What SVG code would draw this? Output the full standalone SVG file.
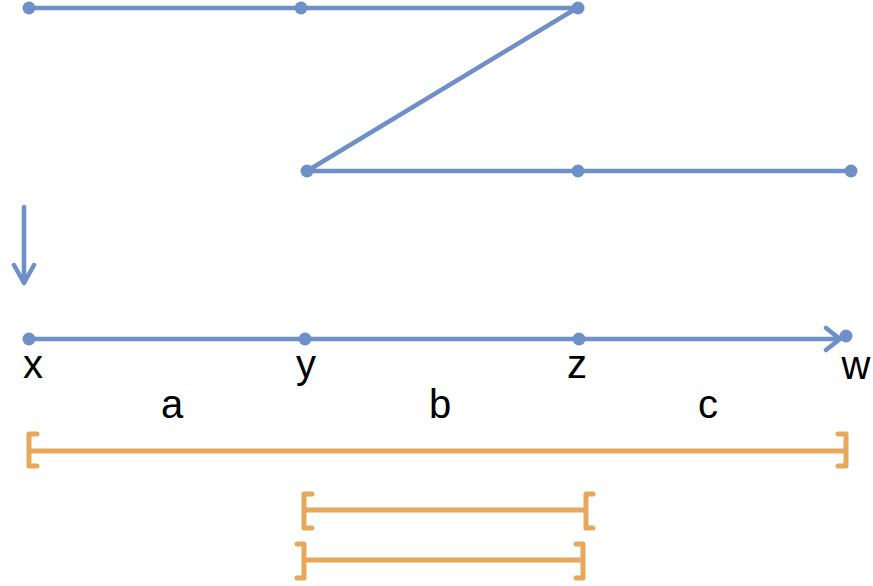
<svg xmlns="http://www.w3.org/2000/svg" width="873" height="586" viewBox="0 0 873 586">
<defs>
<style>
.b{stroke:#6F8FC8;stroke-width:4.5;fill:none;stroke-linecap:round;stroke-linejoin:round}
.d{fill:#6F8FC8}
.o{stroke:#E8A85C;stroke-width:5;fill:none;stroke-linecap:round;stroke-linejoin:round}
.t{font-family:"Liberation Sans",Arial,sans-serif;font-size:40px;fill:#000;text-anchor:middle}
</style>
</defs>
<rect width="873" height="586" fill="#fff"/>
<g id="connectors">
<path class="b" d="M29 8 H577 L307 171 H851"/>
<path class="b" d="M24 207 V283 M14 265 L24 283 L34 265"/>
<path class="b" d="M29 339 H840 M826 328 L840 339 L826 350"/>
</g>
<g id="dots">
<circle class="d" cx="29" cy="8" r="6.5"/>
<circle class="d" cx="301" cy="8" r="6.5"/>
<circle class="d" cx="578" cy="8" r="6.5"/>
<circle class="d" cx="307" cy="171" r="6.5"/>
<circle class="d" cx="578" cy="171" r="6.5"/>
<circle class="d" cx="851" cy="171" r="6.5"/>
<circle class="d" cx="29" cy="339" r="6.5"/>
<circle class="d" cx="305" cy="339" r="6.5"/>
<circle class="d" cx="579" cy="339" r="6.5"/>
<circle class="d" cx="846" cy="336" r="6.5"/>
</g>
<g id="labels">
<text class="t" x="33" y="378">x</text>
<text class="t" x="306" y="378">y</text>
<text class="t" x="577" y="378">z</text>
<text class="t" x="856" y="379">w</text>
<text class="t" x="172" y="418">a</text>
<text class="t" x="440" y="418">b</text>
<text class="t" x="708" y="418">c</text>
</g>
<g id="brackets">
<path class="o" d="M37 434 H29 V466 H37 M29 451 H846 M838 434 H846 V466 H838"/>
<path class="o" d="M312 494 H304 V528 H312 M304 510 H586 M593 494 H586 V528 H593"/>
<path class="o" d="M297 544 H304 V578 H297 M304 560 H583 M576 544 H583 V578 H576"/>
</g>
</svg>
